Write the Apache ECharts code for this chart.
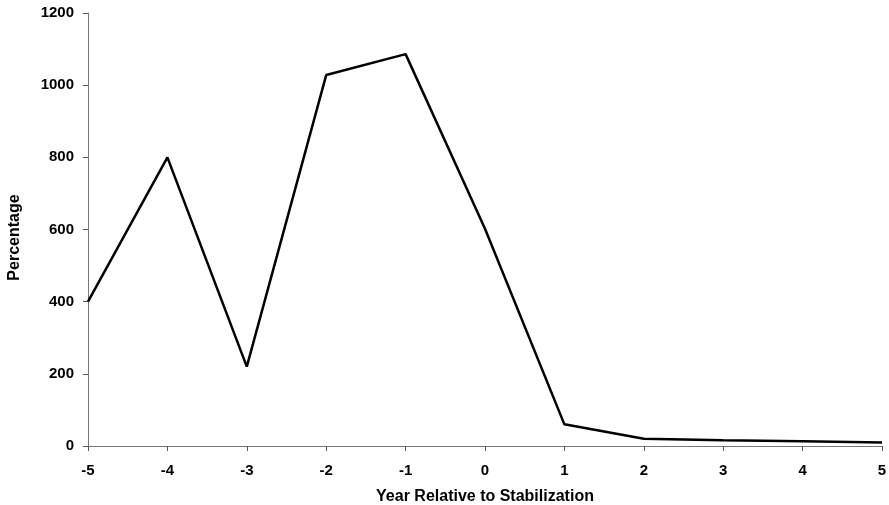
<!DOCTYPE html>
<html>
<head>
<meta charset="utf-8">
<script src="https://cdn.jsdelivr.net/npm/echarts@6/dist/echarts.min.js"></script>
<style>html,body{margin:0;padding:0;background:#fff}#c{width:889px;height:505px}</style>
</head>
<body>
<div id="c"></div>
<script>
const years = [-5, -4, -3, -2, -1, 0, 1, 2, 3, 4, 5];
const percentage = [400, 800, 220, 1028, 1086, 602, 60, 20, 16, 13, 10];
const yTicks = [0, 200, 400, 600, 800, 1000, 1200];

const chart = echarts.init(document.getElementById('c'), null, {renderer: 'canvas'});
const font = 'Liberation Sans, Arial, sans-serif';
chart.setOption({
  animation: false,
  grid: {left: 88, right: 7, top: 13, bottom: 59, containLabel: false, outerBoundsMode: 'none'},
  xAxis: {
    type: 'value', min: -5, max: 5, interval: 1,
    name: 'Year Relative to Stabilization', nameLocation: 'middle', nameGap: 43,
    nameTextStyle: {fontFamily: font, fontWeight: 'bold', fontSize: 16, color: '#000'},
    axisLine: {show: true, onZero: false, lineStyle: {color: '#777', width: 1}},
    axisTick: {show: true, length: 5, lineStyle: {color: '#555'}},
    axisLabel: {fontFamily: font, fontWeight: 'bold', fontSize: 15, color: '#000', margin: 17},
    splitLine: {show: false}
  },
  yAxis: {
    type: 'value', min: yTicks[0], max: yTicks[yTicks.length - 1], interval: 200,
    name: 'Percentage', nameLocation: 'middle', nameGap: 65,
    nameTextStyle: {fontFamily: font, fontWeight: 'bold', fontSize: 16, color: '#000', padding: [0, 16, 0, 0]},
    axisLine: {show: true, onZero: false, lineStyle: {color: '#777', width: 1}},
    axisTick: {show: true, length: 5, lineStyle: {color: '#555'}},
    axisLabel: {fontFamily: font, fontWeight: 'bold', fontSize: 15, color: '#000', margin: 14,
      formatter: v => String(v)},
    splitLine: {show: false}
  },
  series: [{
    type: 'line',
    data: years.map((y, i) => [y, percentage[i]]),
    symbol: 'none',
    lineStyle: {color: '#000', width: 2.5},
    clip: false
  }]
});
</script>
</body>
</html>
